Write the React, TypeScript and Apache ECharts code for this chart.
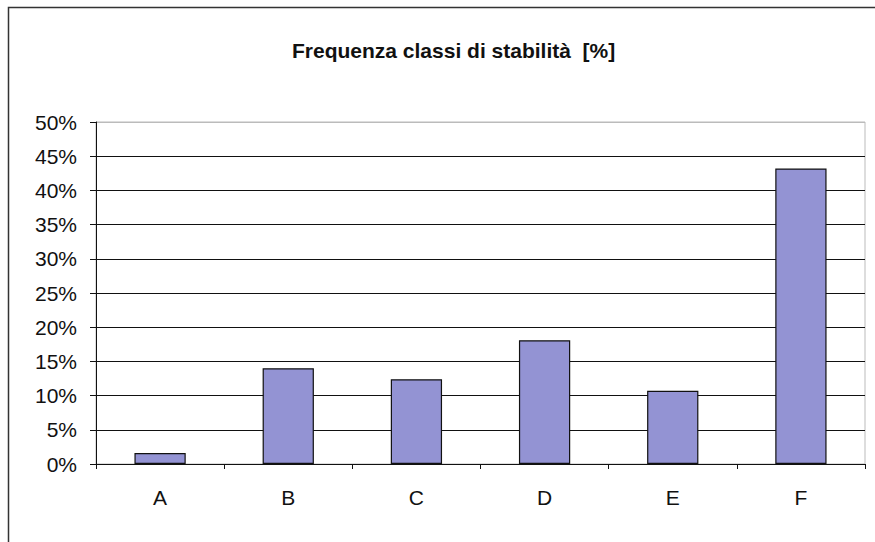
import React, { useEffect, useRef } from "react";
import * as echarts from "echarts";

const categories = ["A", "B", "C", "D", "E", "F"];
const frequencies = [1.6, 14.0, 12.4, 18.1, 10.7, 43.2];
const titleText = "Frequenza classi di stabilità  [%]";

export default function App() {
  const ref = useRef<HTMLDivElement>(null);
  useEffect(() => {
    if (!ref.current) return;
    const chart = echarts.init(ref.current, null, { renderer: "svg" });
    const gridColors = Array.from({ length: 11 }, (_, i) => (i === 10 ? "#bbbbbb" : "#111111"));
    chart.setOption({
      animation: false,
      backgroundColor: "#ffffff",
      title: {
        text: titleText,
        left: 287,
        top: 35,
        textStyle: { fontFamily: "Liberation Sans, Arial", fontSize: 21, fontWeight: "bold", color: "#111" },
      },
      graphic: [
        {
          type: "rect",
          shape: { x: 8.5, y: 7.5, width: 900, height: 700 },
          style: { fill: "none", stroke: "#333", lineWidth: 1.5 },
          silent: true,
        },
      ],
      grid: { left: 96, right: 10, top: 122, bottom: 78, show: true, borderColor: "#bbbbbb", borderWidth: 1 },
      xAxis: {
        type: "category",
        data: categories,
        axisLine: { show: true, lineStyle: { color: "#111", width: 1 } },
        axisTick: { show: true, length: 5, lineStyle: { color: "#111" } },
        axisLabel: { fontFamily: "Liberation Sans, Arial", fontSize: 21, color: "#111", margin: 23 },
      },
      yAxis: {
        type: "value",
        min: 0,
        max: 50,
        interval: 5,
        axisLine: { show: true, lineStyle: { color: "#111", width: 1 } },
        axisTick: { show: true, length: 6, lineStyle: { color: "#111" } },
        axisLabel: {
          fontFamily: "Liberation Sans, Arial",
          fontSize: 21,
          color: "#111",
          margin: 19,
          formatter: (v: number) => `${v}%`,
        },
        splitLine: { show: true, lineStyle: { color: gridColors, width: 1 } },
      },
      series: [
        {
          type: "bar",
          data: frequencies,
          barCategoryGap: "60%",
          itemStyle: { color: "#9393d3", borderColor: "#111", borderWidth: 1.2 },
        },
      ],
    });
    return () => chart.dispose();
  }, []);
  return (
    <div
      ref={ref}
      style={{ position: "absolute", left: 0, top: 0, width: 875, height: 542 }}
    />
  );
}
